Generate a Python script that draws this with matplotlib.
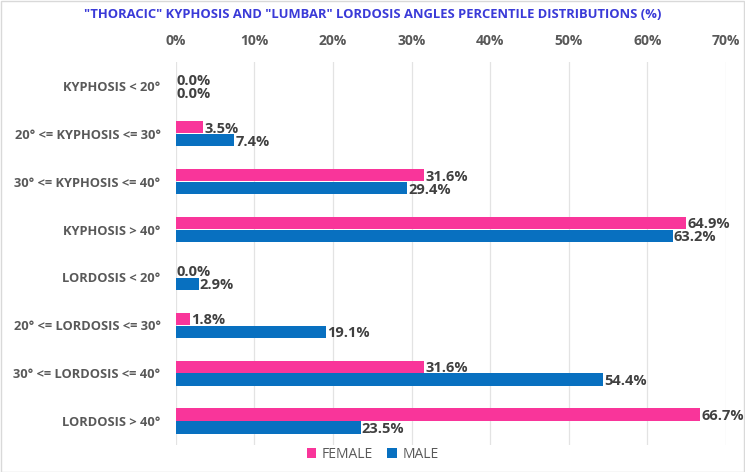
import numpy as np
import matplotlib.pyplot as plt
from matplotlib.patches import Rectangle
from matplotlib.ticker import FuncFormatter

categories = ["KYPHOSIS < 20°", "20° <= KYPHOSIS <= 30°", "30° <= KYPHOSIS <= 40°",
              "KYPHOSIS > 40°", "LORDOSIS < 20°", "20° <= LORDOSIS <= 30°",
              "30° <= LORDOSIS <= 40°", "LORDOSIS > 40°"]
female = [0.0, 3.5, 31.6, 64.9, 0.0, 1.8, 31.6, 66.7]
male = [0.0, 7.4, 29.4, 63.2, 2.9, 19.1, 54.4, 23.5]
xticks = [0, 10, 20, 30, 40, 50, 60, 70]

plt.rcParams['font.family'] = ['Open Sans', 'DejaVu Sans']

pink = '#F9359A'
blue = '#0870C0'
txt = '#404040'

fig = plt.figure(figsize=(7.45, 4.72), dpi=100)
ax = fig.add_axes([0.236, 0.057, 0.7385, 0.812])

y = np.arange(len(categories))
h = 0.26
off = 0.135
ax.barh(y - off, female, height=h, color=pink, linewidth=0,
        label='FEMALE', zorder=3)
ax.barh(y + off, male, height=h, color=blue, linewidth=0,
        label='MALE', zorder=3)

# data labels
for yi, v in zip(y - off, female):
    ax.text(v + 0.15, yi + 0.03, f'{v:.1f}%', va='center', ha='left', fontsize=10.5,
            fontweight='bold', color=txt, zorder=4)
for yi, v in zip(y + off, male):
    ax.text(v + 0.15, yi + 0.03, f'{v:.1f}%', va='center', ha='left', fontsize=10.5,
            fontweight='bold', color=txt, zorder=4)

ax.set_xlim(0, 70)
ax.set_ylim(len(categories) - 0.5, -0.5)
ax.set_xticks(xticks)
ax.xaxis.set_major_formatter(FuncFormatter(lambda v, p: f'{v:.0f}%'))
ax.xaxis.tick_top()
ax.set_yticks(y)
ax.set_yticklabels(categories)
ax.tick_params(axis='x', length=0, pad=10, labelsize=10, labelcolor='#595959')
ax.tick_params(axis='y', length=0, pad=11, labelsize=9.3, labelcolor='#595959')
for lab in ax.get_xticklabels() + ax.get_yticklabels():
    lab.set_fontweight('bold')
ax.grid(axis='x', color='#E3E3E3', linewidth=0.9, zorder=0)
for s in ax.spines.values():
    s.set_visible(False)

fig.suptitle('"THORACIC" KYPHOSIS AND "LUMBAR" LORDOSIS ANGLES PERCENTILE DISTRIBUTIONS (%)',
             y=0.982, fontsize=9.4, fontweight='bold', color='#3A3AD8')

fig.legend(loc='lower center', bbox_to_anchor=(0.5, -0.005), ncol=2, frameon=False,
           fontsize=10, handlelength=0.7, handleheight=0.7, handletextpad=0.4,
           columnspacing=1.0, labelcolor='#595959')

# chart area border
fig.patches.append(Rectangle((0.001, 0.001), 0.997, 0.997, transform=fig.transFigure,
                             fill=False, edgecolor='#D9D9D9', linewidth=1))

fig.savefig('out.png', dpi=100)
